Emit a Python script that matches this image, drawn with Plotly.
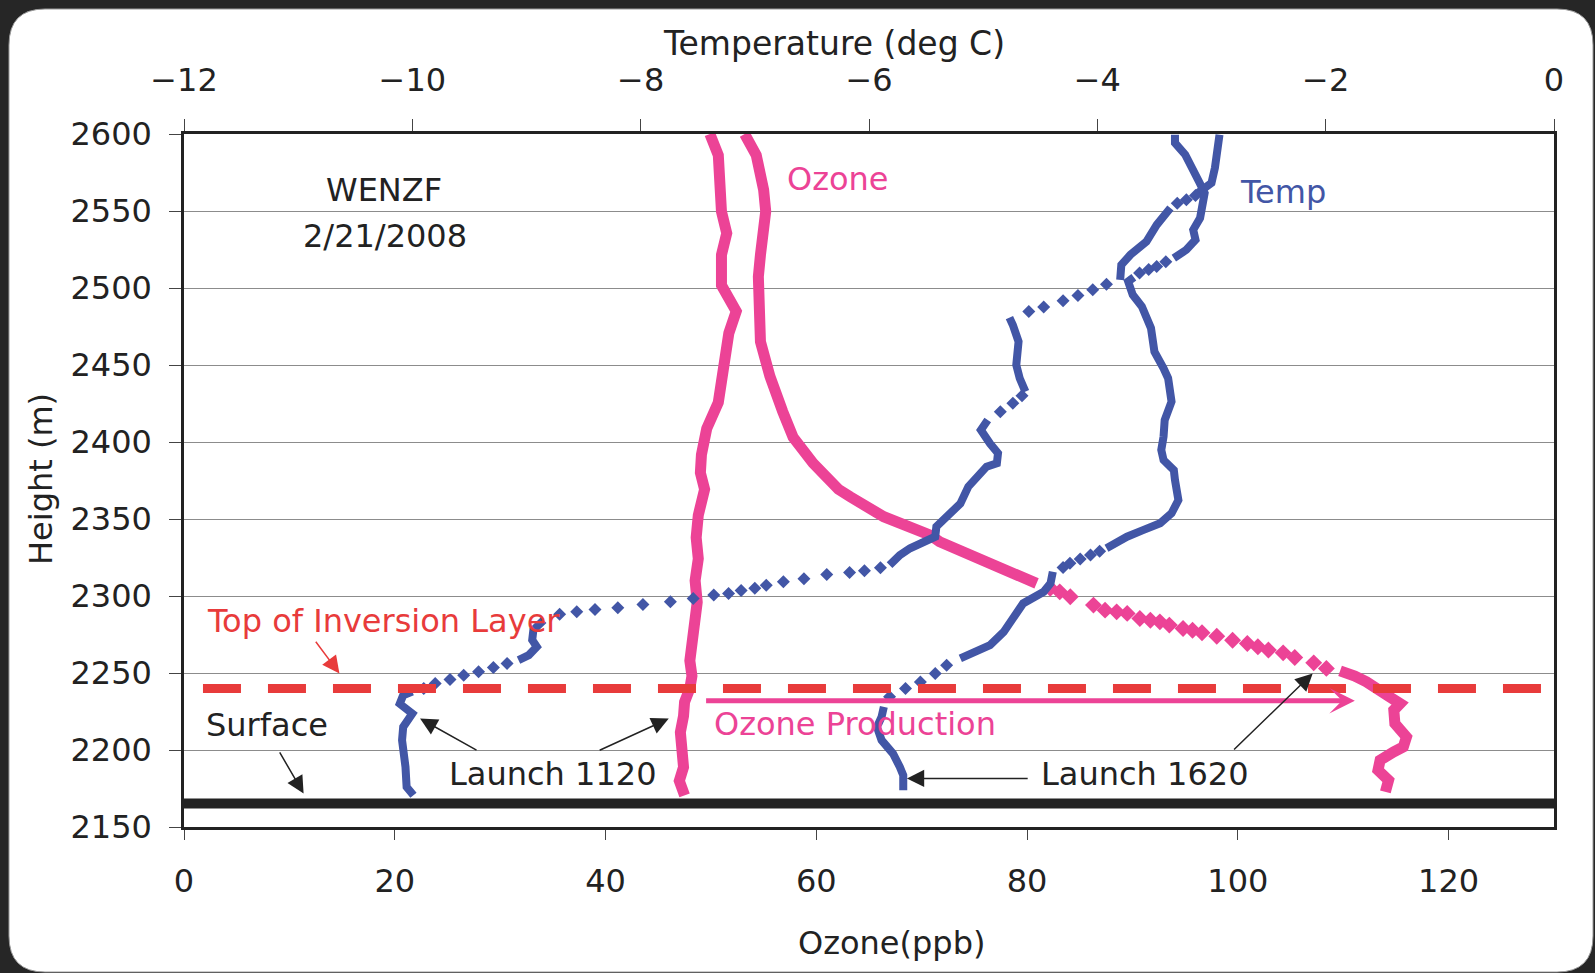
import plotly.graph_objects as go

# Balloon soundings WENZF, 2/21/2008. Heights in m.
# "None" breaks a curve; the *_dots lists are sparse readings (fast ascent) drawn as loose diamonds.

# Ozone (ppb), launch 1120
oz1120_h = [2170.6, 2180, 2188.9, 2200, 2211.5, 2222, 2231.2, 2240, 2248.1, 2258, 2267.8, 2282, 2296,
            2310, 2324.2, 2338, 2352.4, 2369.3, 2380, 2391.8, 2408.7, 2425.7, 2448.2, 2470.7, 2484.9,
            2501.8, 2521.5, 2535.6, 2549.7, 2560, 2572.3, 2586.3, 2600]
oz1120_v = [47.5, 47.0, 47.4, 47.2, 47.1, 47.4, 47.5, 48.0, 48.2, 48.0, 48.2, 48.5, 48.7,
            48.5, 48.8, 48.6, 48.8, 49.4, 49.0, 49.1, 49.6, 50.7, 51.2, 51.7, 52.4,
            51.0, 51.0, 51.5, 51.0, 50.9, 50.6, 50.7, 49.9]

# Ozone (ppb), launch 1620
oz1620_h = [2172.8, 2180.4, 2186.9, 2193.4, 2198.8, 2202, 2208.5, 2217.2, 2225.9, 2230.2, 2234.5,
            2238.9, 2244.3, 2248, 2251.4, None,
            2308.2, 2313.6, 2320, 2327.7, 2335.2, 2339.6, 2348.2, 2351.5, 2364.5, 2369.3, 2386.2,
            2403.1, 2420, 2442.6, 2465.1, 2493.3, 2507.4, 2521.5, 2549.7, 2563.8, 2577.8, 2586.3, 2600]
oz1620_v = [114.0, 114.3, 113.3, 113.5, 114.8, 115.7, 116.0, 114.9, 114.8, 115.4, 114.4,
            113.5, 112.2, 111.1, 109.7, None,
            80.9, 79.0, 76.5, 74.3, 71.7, 70.8, 67.9, 66.4, 63.2, 62.1, 59.7,
            57.8, 56.8, 55.6, 54.7, 54.5, 54.5, 54.7, 55.2, 55.0, 54.6, 54.3, 53.2]
oz1620_dots_h = [2253, 2256.6, 2260.1, 2263.1, 2264.9, 2267, 2269.2, 2271.3, 2273.9, 2276.1, 2277.8,
                 2278.9, 2281.1, 2283.2, 2284.3, 2285.4, 2288.7, 2289.7, 2290.8, 2294.1, 2299.5,
                 2302.7, 2305]
oz1620_dots_v = [108.4, 107.2, 105.4, 104.3, 102.9, 101.9, 100.9, 99.5, 98.0, 96.6, 95.7,
                 94.8, 93.5, 92.6, 91.7, 90.7, 89.5, 88.5, 87.4, 86.3, 84.1,
                 83.1, 82.2]

# Temperature (deg C), launch 1120
t1120_h = [2170.6, 2176, 2189, 2206.4, 2215, 2223.7, 2230, 2235.6, 2238, None,
           2258.4, 2261.6, 2267, 2271.4, 2277.8, 2284.3, None,
           2320, 2326.6, 2331, 2335.2, 2338.5, 2345, 2351.5, 2360, 2371, 2377.5, 2384, 2386.2,
           2392.7, 2399, 2407.8, 2414.3, None,
           2432.7, 2441.4, 2450, 2465.2, 2476, 2480.8, None,
           2505.3, 2515, 2521.6, 2530.2, 2541, 2551.9, None,
           2561.7, 2563.8, 2568.2, 2578, 2588.7, 2599.5]
t1120_v = [-9.99, -10.05, -10.06, -10.09, -10.08, -10.0, -10.11, -10.08, -10.0, None,
           -9.07, -8.98, -8.91, -8.95, -8.94, -8.85, None,
           -5.82, -5.73, -5.64, -5.52, -5.42, -5.41, -5.32, -5.20, -5.13, -5.06, -4.97, -4.88,
           -4.87, -4.94, -5.02, -4.96, None,
           -4.63, -4.68, -4.71, -4.69, -4.74, -4.77, None,
           -3.80, -3.79, -3.71, -3.57, -3.48, -3.36, None,
           -3.12, -3.07, -3.0, -2.97, -2.95, -2.93]
t1120_dots_h = [2240, 2243.2, 2245.8, 2248.6, 2250.8, 2253.6, 2256.2,
                2288.2, 2289.7, 2291.3, 2292.3, 2294.5, 2296.3, 2298.4, 2300.6, 2301.7, 2303.6,
                2305, 2307, 2309.2, 2311.2, 2314, 2315.2, 2316.4, 2318.3,
                2419.7, 2425.2, 2430,
                2484.7, 2487.6, 2491.7, 2495.1, 2498.8, 2502.5,
                2555, 2557.3, 2560]
t1120_dots_v = [-9.90, -9.80, -9.67, -9.55, -9.42, -9.29, -9.17,
                -8.71, -8.56, -8.40, -8.20, -7.98, -7.74, -7.54, -7.36, -7.23, -7.12,
                -7.0, -6.90, -6.75, -6.57, -6.37, -6.17, -6.04, -5.90,
                -4.85, -4.74, -4.66,
                -4.60, -4.47, -4.30, -4.17, -4.04, -3.92,
                -3.30, -3.22, -3.14]

# Temperature (deg C), launch 1620
t1620_h = [2173.8, 2183.6, 2189, 2197.7, 2206.4, 2215, 2221.5, 2228, None,
           2259.5, 2263.7, 2268.1, 2276.7, 2285.5, 2295.2, 2302.7, 2308.2, 2315.7, None,
           2331, 2338.5, 2342.8, 2347.2, 2353.7, 2362.3, 2375.3, 2381.8, 2388.3, 2394.8, 2403.5,
           2414.3, 2426.2, 2441.4, 2447.9, 2458.7, 2473.9, 2488, 2495.6, 2504.2, 2507, None,
           2519.4, 2524.8, 2531.3, 2537.8, 2545.4, 2554, 2561.7, 2569.2, 2578, 2586.6, 2594.2, 2599.5]
t1620_v = [-5.70, -5.70, -5.73, -5.79, -5.89, -5.93, -5.89, -5.87, None,
           -5.20, -5.07, -4.94, -4.82, -4.74, -4.65, -4.47, -4.41, -4.39, None,
           -3.92, -3.74, -3.60, -3.45, -3.35, -3.29, -3.32, -3.33, -3.42, -3.44, -3.42,
           -3.41, -3.35, -3.38, -3.42, -3.50, -3.53, -3.61, -3.69, -3.73, -3.68, None,
           -3.33, -3.22, -3.14, -3.16, -3.10, -3.07, -3.06, -3.11, -3.17, -3.23, -3.32, -3.32]
t1620_dots_h = [2234.5, 2240, 2244.2, 2249.7, 2255.1,
                2318.5, 2321.2, 2324, 2326.6, 2329,
                2509.7, 2512, 2514, 2517]
t1620_dots_v = [-5.82, -5.68, -5.55, -5.42, -5.32,
                -4.30, -4.24, -4.15, -4.06, -3.98,
                -3.63, -3.55, -3.48, -3.40]

# reference lines and marked levels
inversion_height = 2240
inversion_span = [1.8, 128.8]
surface_height = 2165.2
production_height = 2232
production_span = [49.4, 111.1]

PINK = '#EC4396'
BLUE = '#4256A6'
RED = '#E83B3B'
INK = '#222222'
FONT = 'DejaVu Sans'

fig = go.Figure()

# ozone curves (bottom axis)
fig.add_trace(go.Scatter(x=oz1120_v, y=oz1120_h, mode='lines', line=dict(color=PINK, width=11)))
fig.add_trace(go.Scatter(x=oz1620_v, y=oz1620_h, mode='lines', line=dict(color=PINK, width=11)))
fig.add_trace(go.Scatter(x=oz1620_dots_v, y=oz1620_dots_h, mode='markers',
                         marker=dict(symbol='diamond', size=13, color=PINK)))

# temperature curves (top axis)
fig.add_trace(go.Scatter(x=t1120_v, y=t1120_h, mode='lines', xaxis='x2', line=dict(color=BLUE, width=8)))
fig.add_trace(go.Scatter(x=t1120_dots_v, y=t1120_dots_h, mode='markers', xaxis='x2',
                         marker=dict(symbol='diamond', size=10, color=BLUE)))
fig.add_trace(go.Scatter(x=t1620_v, y=t1620_h, mode='lines', xaxis='x2', line=dict(color=BLUE, width=8)))
fig.add_trace(go.Scatter(x=t1620_dots_v, y=t1620_dots_h, mode='markers', xaxis='x2',
                         marker=dict(symbol='diamond', size=10, color=BLUE)))

# page geometry
W, H = 1595, 973
ML, MR, MT, MB = 184, 41, 134, 146
PW, PH = W - ML - MR, H - MT - MB


def px(xp):
    return (xp - ML) / PW


def py(yp):
    return (H - MB - yp) / PH


# white rounded card on the dark page
x0, x1, y0, y1, r = 9, 1593, 9, 972, 36
card = (f"M {px(x0 + r)},{py(y0)} L {px(x1 - r)},{py(y0)} Q {px(x1)},{py(y0)} {px(x1)},{py(y0 + r)} "
        f"L {px(x1)},{py(y1 - r)} Q {px(x1)},{py(y1)} {px(x1 - r)},{py(y1)} "
        f"L {px(x0 + r)},{py(y1)} Q {px(x0)},{py(y1)} {px(x0)},{py(y1 - r)} "
        f"L {px(x0)},{py(y0 + r)} Q {px(x0)},{py(y0)} {px(x0 + r)},{py(y0)} Z")
fig.add_shape(type='path', path=card, xref='paper', yref='paper', layer='below',
              fillcolor='white', line=dict(color='#9a9a9a', width=1))

# top of inversion layer and the surface
fig.add_shape(type='line', x0=inversion_span[0], x1=inversion_span[1], y0=inversion_height,
              y1=inversion_height, xref='x', yref='y', layer='above',
              line=dict(color=RED, width=9, dash='38px,27px'))
fig.add_shape(type='line', x0=0, x1=130, y0=surface_height, y1=surface_height, xref='x', yref='y',
              layer='above', line=dict(color=INK, width=10))

# ozone production arrow
fig.add_annotation(x=production_span[1], y=production_height, ax=production_span[0], ay=production_height,
                   xref='x', yref='y', axref='x', ayref='y', text='', showarrow=True,
                   arrowhead=3, arrowsize=0.85, arrowwidth=5, arrowcolor=PINK, standoff=0)

# pointer arrows: (tail ozone, tail height, tip ozone, tip height, colour)
pointers = [
    (12.4, 2271.3, 14.75, 2249.7, RED),
    (9.0, 2199.4, 11.35, 2171.7, INK),
    (27.9, 2199.4, 22.4, 2220.4, INK),
    (39.3, 2199.4, 46.0, 2220.4, INK),
    (80.2, 2181.5, 68.6, 2181.5, INK),
    (99.5, 2199.4, 107.1, 2249.7, INK),
]
for ax_, ay_, x_, y_, c in pointers:
    fig.add_annotation(x=x_, y=y_, ax=ax_, ay=ay_, xref='x', yref='y', axref='x', ayref='y', text='',
                       showarrow=True, arrowhead=2, arrowsize=2.3, arrowwidth=1.5, arrowcolor=c,
                       standoff=0, startstandoff=0)

# text labels
labels = [
    ('WENZF', 19.0, 2563.5, 'center', INK, 'x'),
    ('2/21/2008', 19.1, 2534, 'center', INK, 'x'),
    ('Ozone', 57.05, 2571, 'left', PINK, 'x'),
    ('Temp', -2.77, 2562.5, 'left', BLUE, 'x2'),
    ('Top of Inversion Layer', 1.95, 2283.5, 'left', RED, 'x'),
    ('Surface', 1.85, 2216, 'left', INK, 'x'),
    ('Launch 1120', 25.0, 2184.5, 'left', INK, 'x'),
    ('Launch 1620', 81.1, 2184.5, 'left', INK, 'x'),
    ('Ozone Production', 50.1, 2217, 'left', PINK, 'x'),
]
for t, x_, y_, anc, c, xr in labels:
    fig.add_annotation(x=x_, y=y_, xref=xr, yref='y', text=t, showarrow=False, xanchor=anc,
                       yanchor='middle', font=dict(family=FONT, size=32, color=c))

# axis titles
fig.add_annotation(x=px(834), y=py(44), xref='paper', yref='paper', text='Temperature (deg C)',
                   showarrow=False, xanchor='center', yanchor='middle', font=dict(family=FONT, size=33, color=INK))
fig.add_annotation(x=px(891), y=py(943), xref='paper', yref='paper', text='Ozone(ppb)',
                   showarrow=False, xanchor='center', yanchor='middle', font=dict(family=FONT, size=32, color=INK))
fig.add_annotation(x=px(41), y=py(479), xref='paper', yref='paper', text='Height (m)', textangle=-90,
                   showarrow=False, xanchor='center', yanchor='middle', font=dict(family=FONT, size=32, color=INK))

tickfont = dict(family=FONT, size=32, color=INK)
fig.update_layout(
    width=W, height=H,
    margin=dict(l=ML, r=MR, t=MT, b=MB, pad=0),
    paper_bgcolor='#262626', plot_bgcolor='white',
    showlegend=False,
    xaxis=dict(range=[0, 130], tickvals=[0, 20, 40, 60, 80, 100, 120], ticks='outside', ticklen=10,
               tickwidth=1, tickcolor='#444', showline=True, linecolor=INK, linewidth=2.5,
               showgrid=False, zeroline=False, tickfont=tickfont, ticklabelstandoff=14),
    xaxis2=dict(range=[-12, 0], dtick=2, overlaying='x', side='top', anchor='y', ticks='outside',
                ticklen=12, tickwidth=1, tickcolor='#444', showline=True, linecolor=INK, linewidth=2.5,
                showgrid=False, zeroline=False, tickfont=tickfont, ticklabelstandoff=15),
    yaxis=dict(range=[2150, 2600], dtick=50, ticks='outside', ticklen=12, tickwidth=1, tickcolor='#444',
               showline=True, linecolor=INK, linewidth=2.5, mirror=True, showgrid=True,
               gridcolor='#8c8c8c', gridwidth=1.3, zeroline=False, tickfont=tickfont, ticklabelstandoff=11),
)

# the page itself is dark and edge-to-edge, like the original image
fig.write_html("out.html", config={'displayModeBar': False},
               post_script="document.body.style.margin='0';"
                           "document.body.style.background='#262626';")
